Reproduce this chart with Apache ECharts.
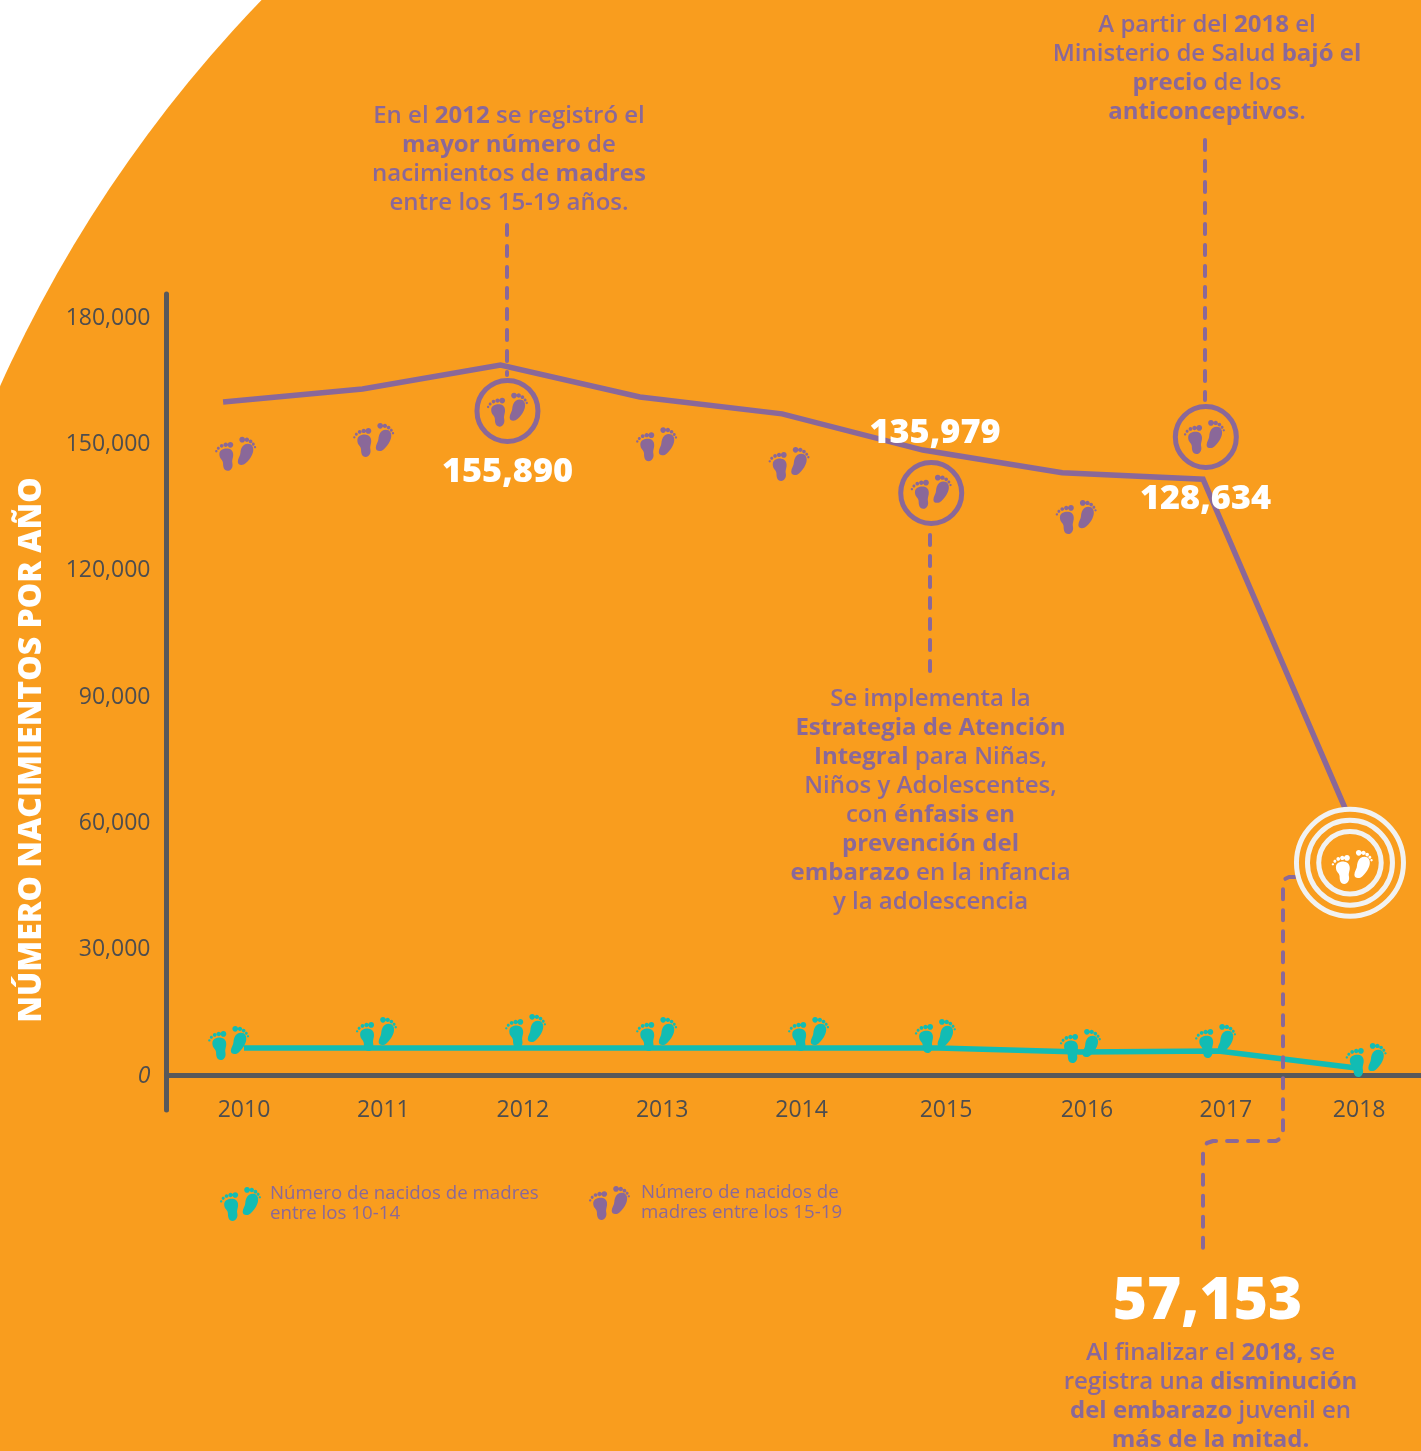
<!DOCTYPE html>
<html lang="es">
<head>
<meta charset="utf-8">
<title>Número de nacimientos por año</title>
<style>html,body{margin:0;padding:0;background:#fff}#c{width:1421px;height:1451px}</style>
<script src="https://cdn.jsdelivr.net/npm/echarts@6/dist/echarts.min.js"></script>
</head>
<body>
<div id="c"></div>
<script>
// ---------- data ----------
const yTickValues = [0, 30000, 60000, 90000, 120000, 150000, 180000];
const yearTicks = [2010, 2011, 2012, 2013, 2014, 2015.036, 2016.047, 2017.044, 2018];

const name1014 = 'Número de nacidos de madres\nentre los 10-14';
const name1519 = 'Número de nacidos de\nmadres entre los 15-19';

const years1519 = [2009.85, 2010.85, 2011.84, 2012.84, 2013.86, 2014.87, 2015.87, 2016.88, 2017.98];
const births1519 = [159800, 162900, 168600, 161000, 157000, 148400, 143000, 141500, 57153];
const years1014 = [2010, 2011, 2012, 2013, 2014, 2014.98, 2016, 2016.99, 2017.98];
const births1014 = [6400, 6400, 6400, 6400, 6400, 6400, 5460, 5700, 1660];

const feet1519Years = [2009.94, 2010.93, 2011.89, 2012.96, 2013.91, 2014.93, 2015.97, 2016.89];
const feet1519Values = [147500, 150800, 158000, 149800, 145100, 138500, 132500, 151500];
const feet1014Years = [2009.89, 2010.95, 2012.02, 2012.96, 2014.05, 2014.96, 2016.0, 2016.97, 2018.05];
const feet1014Values = [7600, 9740, 10450, 9740, 9740, 9260, 6890, 8070, 3560];

const circledYears = [2011.89, 2014.93, 2016.9];
const circledValues = [157700, 138200, 151500];
const target2018 = [2017.934, 50400];
const targetFeet2018 = [2017.95, 49400];

const callout155 = '155,890';
const callout135 = '135,979';
const callout128 = '128,634';
const callout57 = '57,153';

const note2012 = ['{n|En el }{b|2012}{n| se registró el}', '{b|mayor número}{n| de}', '{n|nacimientos de }{b|madres}', '{n|entre los 15-19 años.}'];
const note2018 = ['{n|A partir del }{b|2018}{n| el}', '{n|Ministerio de Salud }{b|bajó el}', '{b|precio}{n| de los}', '{b|anticonceptivos}{n|.}'];
const note2015 = ['{n|Se implementa la}', '{b|Estrategia de Atención}', '{b|Integral}{n| para Niñas,}', '{n|Niños y Adolescentes,}', '{n|con }{b|énfasis en}', '{b|prevención del}', '{b|embarazo}{n| en la infancia}', '{n|y la adolescencia}'];
const noteEnd = ['{n|Al finalizar el }{b|2018,}{n| se}', '{n|registra una }{b|disminución}', '{b|del embarazo}{n| juvenil en}', '{b|más de la mitad.}'];

// ---------- styling ----------
const ORANGE = '#F99D1E', PURPLE = '#8A6899', TEAL = '#12BCB4', AXIS = '#58595B', TICK = '#4D4D4F', RING = '#F1F2F2';
const FONT = '"Open Sans", sans-serif';

function dot(cx, cy, r) {
  const k = r * 0.5523;
  return 'M' + (cx - r) + ' ' + cy +
    'C' + (cx - r) + ' ' + (cy - k) + ' ' + (cx - k) + ' ' + (cy - r) + ' ' + cx + ' ' + (cy - r) +
    'C' + (cx + k) + ' ' + (cy - r) + ' ' + (cx + r) + ' ' + (cy - k) + ' ' + (cx + r) + ' ' + cy +
    'C' + (cx + r) + ' ' + (cy + k) + ' ' + (cx + k) + ' ' + (cy + r) + ' ' + cx + ' ' + (cy + r) +
    'C' + (cx - k) + ' ' + (cy + r) + ' ' + (cx - r) + ' ' + (cy + k) + ' ' + (cx - r) + ' ' + cy + 'Z';
}
const FEET = 'path://' + [
  'M13 52C13 38 28 34 38 35C50 36 56 46 54 58C52 68 50 72 52 80C54 90 48 101 38 101C26 101 24 88 24 78C24 68 13 66 13 52Z',
  dot(46, 24, 8.5), dot(32, 24, 6.5), dot(20, 27, 5.5), dot(10, 34, 4.5), dot(4, 43, 3.5),
  'M78 36C82 22 96 18 106 22C116 28 116 42 110 54C106 64 100 70 92 78C84 86 68 86 68 74C68 64 76 56 76 46C76 42 77 40 78 36Z',
  dot(81, 9, 8.5), dot(95, 9, 6.5), dot(106, 14, 5.5), dot(114, 22, 4.5), dot(119, 31, 3.5)
].join('');

function zip(a, b) { return a.map((v, i) => [v, b[i]]); }

function note(cx, firstLineCenter, lines) {
  return {
    type: 'text', z: 20, silent: true,
    style: {
      x: cx, y: firstLineCenter - 13, align: 'center', verticalAlign: 'top',
      text: lines.join('\n'),
      rich: {
        n: { fontFamily: FONT, fontSize: 24, fontWeight: 600, lineHeight: 29, fill: PURPLE, color: PURPLE },
        b: { fontFamily: FONT, fontSize: 24, fontWeight: 700, lineHeight: 29, fill: PURPLE, color: PURPLE }
      }
    }
  };
}
function big(cx, cy, text, size) {
  return {
    type: 'text', z: 20, silent: true,
    style: { x: cx, y: cy, align: 'center', verticalAlign: 'middle', text: text, fontFamily: FONT, fontWeight: 800, fontSize: size, fill: '#fff' }
  };
}
function dash(points) {
  return {
    type: 'polyline', z: 4, silent: true,
    shape: { points: points },
    style: { stroke: PURPLE, fill: null, lineWidth: 4, lineDash: [10, 11], lineCap: 'round', lineJoin: 'round' }
  };
}

const option = {
  animation: false,
  backgroundColor: '#fff',
  textStyle: { fontFamily: FONT },
  grid: { left: 166.5, width: 1254.7, top: 294, bottom: 341, containLabel: false, outerBoundsMode: 'none' },
  xAxis: {
    type: 'value', min: 2009.444, max: 2018.445, splitLine: { show: false },
    axisLine: { show: true, onZero: true, lineStyle: { color: AXIS, width: 5 } },
    axisTick: { show: false },
    axisLabel: {
      customValues: yearTicks, margin: -11, color: TICK, fontSize: 23, fontFamily: FONT,
      formatter: v => String(Math.round(v))
    }
  },
  yAxis: {
    type: 'value', min: -8311, max: 185462, splitLine: { show: false },
    name: 'NÚMERO NACIMIENTOS POR AÑO', nameLocation: 'middle', nameGap: 119,
    nameTextStyle: { color: '#fff', fontWeight: 800, fontSize: 32, fontFamily: FONT, padding: [0, 96, 0, 0] },
    axisLine: { show: true, onZero: false, lineStyle: { color: AXIS, width: 5, cap: 'round' } },
    axisTick: { show: false },
    axisLabel: {
      customValues: yTickValues, margin: 16, color: TICK, fontSize: 23, fontFamily: FONT, padding: [2, 0, 0, 0],
      formatter: v => v === 0 ? '{z|0}' : Number(v).toLocaleString('en-US'),
      rich: { z: { fontStyle: 'italic', color: TICK, fontSize: 23, fontFamily: FONT } }
    }
  },
  legend: [
    { data: [name1014], left: 220, top: 1184, padding: 0, orient: 'horizontal', icon: FEET, itemWidth: 41, itemHeight: 34, itemGap: 0, selectedMode: false, textStyle: { color: PURPLE, fontSize: 18.7, lineHeight: 20, fontFamily: FONT, padding: [0, 0, 0, 4] } },
    { data: [name1519], left: 589, top: 1183, padding: 0, orient: 'horizontal', icon: FEET, itemWidth: 41, itemHeight: 34, itemGap: 0, selectedMode: false, textStyle: { color: PURPLE, fontSize: 18.7, lineHeight: 20, fontFamily: FONT, padding: [0, 0, 0, 6] } }
  ],
  series: [
    { name: name1519, type: 'line', data: zip(years1519, births1519), symbol: 'none', z: 3,
      itemStyle: { color: PURPLE }, lineStyle: { color: PURPLE, width: 5.5, join: 'miter' } },
    { name: name1014, type: 'line', data: zip(years1014, births1014), symbol: 'none', z: 3,
      itemStyle: { color: TEAL }, lineStyle: { color: TEAL, width: 5.5, join: 'miter' } },
    { name: 'anillos', type: 'scatter', z: 6, silent: true, symbol: 'circle',
      data: [[...target2018, 107], [...target2018, 85], [...target2018, 62.5]],
      symbolSize: d => d[2],
      itemStyle: { color: ORANGE, borderColor: RING, borderWidth: 5, opacity: 1 } },
    { name: 'círculos', type: 'scatter', z: 6, silent: true, symbol: 'circle', symbolSize: 61,
      data: zip(circledYears, circledValues),
      itemStyle: { color: 'rgba(0,0,0,0)', borderColor: PURPLE, borderWidth: 5, opacity: 1 } },
    { name: 'pies 15-19', type: 'scatter', z: 7, silent: true, symbol: FEET, symbolSize: [41, 34],
      data: zip(feet1519Years, feet1519Values), itemStyle: { color: PURPLE, opacity: 1 } },
    { name: 'pies 10-14', type: 'scatter', z: 7, silent: true, symbol: FEET, symbolSize: [41, 34],
      data: zip(feet1014Years, feet1014Values), itemStyle: { color: TEAL, opacity: 1 } },
    { name: 'pies 2018', type: 'scatter', z: 7, silent: true, symbol: FEET, symbolSize: [41, 34],
      data: [targetFeet2018], itemStyle: { color: '#fff', opacity: 1 } }
  ],
  graphic: { elements: [
    { type: 'circle', z: -10, silent: true, shape: { cx: 1241, cy: 945, r: 1361 }, style: { fill: ORANGE } },
    dash([[507, 225], [507, 375]]),
    dash([[1205, 140], [1205, 400]]),
    dash([[930, 535], [930, 675]]),
    dash([[1295, 877], [1289, 877], [1285, 879], [1283, 884], [1283, 1133], [1281, 1138], [1276, 1141], [1213, 1141], [1207, 1143], [1204, 1148], [1203, 1154], [1203, 1252]]),
    note(509, 115, note2012),
    note(1207, 24, note2018),
    note(930.5, 698, note2015),
    note(1210.5, 1351.5, noteEnd),
    big(507.5, 472, callout155, 34.3),
    big(935, 433, callout135, 34.3),
    big(1205.5, 499, callout128, 34.3),
    big(1207.5, 1302, callout57, 58.5)
  ] }
};
const chart = echarts.init(document.getElementById('c'), null, { renderer: 'canvas', width: 1421, height: 1451 });
chart.setOption(option);
</script>
</body>
</html>
